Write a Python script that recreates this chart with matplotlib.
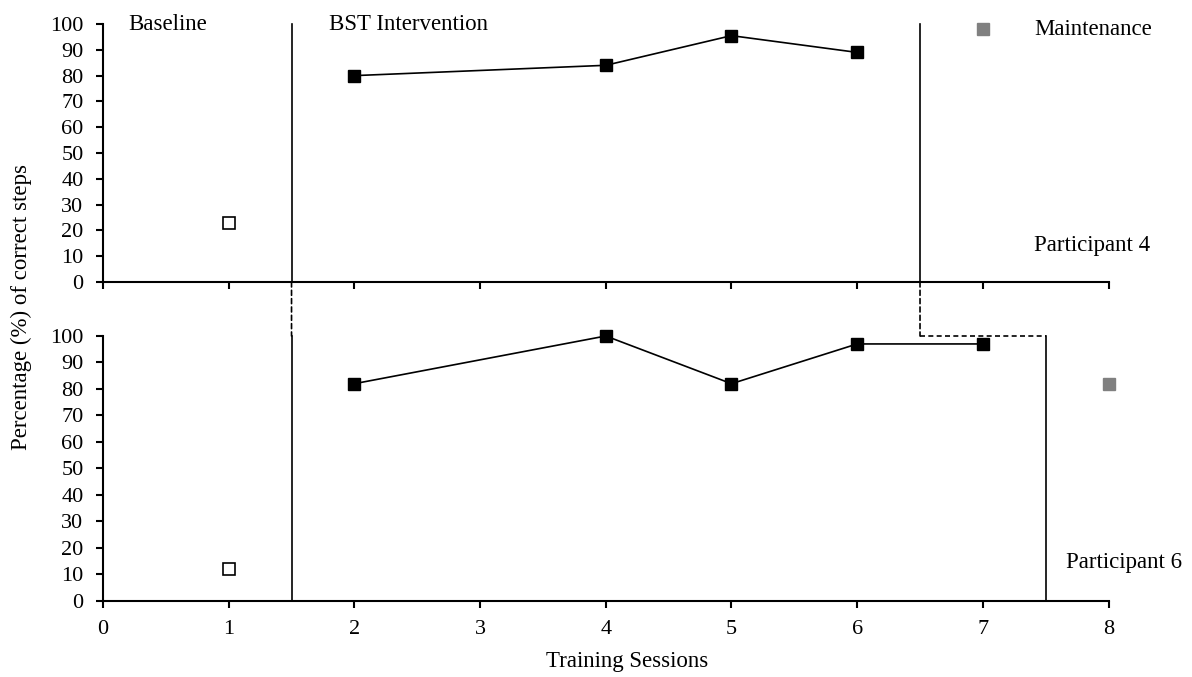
import matplotlib
matplotlib.use("Agg")
import matplotlib.pyplot as plt
from matplotlib.patches import ConnectionPatch

plt.rcParams["font.family"] = ["Liberation Serif", "DejaVu Serif"]
plt.rcParams["font.size"] = 16.5

# Participant 4
p4_base_x = [1]
p4_base_y = [23]
p4_bst_x = [2, 4, 5, 6]
p4_bst_y = [80, 84, 95.5, 89]
p4_maint_x = [7]
p4_maint_y = [98]

# Participant 6
p6_base_x = [1]
p6_base_y = [12]
p6_bst_x = [2, 4, 5, 6, 7]
p6_bst_y = [82, 100, 82, 97, 97]
p6_maint_x = [8]
p6_maint_y = [82]

# Phase changes
p4_phase = [1.5, 6.5]
p6_phase = [1.5, 7.5]

x_ticks = [0, 1, 2, 3, 4, 5, 6, 7, 8]
y_ticks = list(range(0, 101, 10))

fig = plt.figure(figsize=(11.92, 6.77), dpi=100)
ax1 = fig.add_axes([0.0864, 0.5835, 0.8436, 0.381])
ax2 = fig.add_axes([0.0864, 0.1123, 0.8436, 0.3914])

sq = dict(marker="s", markersize=8.5, linestyle="none", clip_on=False, zorder=4)

for ax, bx, by, ix, iy, mx, my in [
    (ax1, p4_base_x, p4_base_y, p4_bst_x, p4_bst_y, p4_maint_x, p4_maint_y),
    (ax2, p6_base_x, p6_base_y, p6_bst_x, p6_bst_y, p6_maint_x, p6_maint_y),
]:
    ax.plot(bx, by, mfc="white", mec="black", mew=1.2, **sq)
    ax.plot(ix, iy, color="black", lw=1.2, zorder=3, clip_on=False)
    ax.plot(ix, iy, mfc="black", mec="black", **sq)
    ax.plot(mx, my, mfc="#808080", mec="#808080", **sq)

    ax.set_xlim(0, 8)
    ax.set_ylim(0, 100)
    ax.set_xticks(x_ticks)
    ax.set_yticks(y_ticks)
    for s in ["top", "right"]:
        ax.spines[s].set_visible(False)
    for s in ["left", "bottom"]:
        ax.spines[s].set_linewidth(1.5)
    ax.tick_params(direction="out", length=5, width=1.5, labelsize=16)
    ax.tick_params(axis="y", pad=9)
    ax.tick_params(axis="x", pad=9)

ax1.tick_params(axis="x", labelbottom=False)

# phase change lines
for x in p4_phase:
    ax1.plot([x, x], [0, 100], color="black", lw=1.2, clip_on=False)
for x in p6_phase:
    ax2.plot([x, x], [0, 100], color="black", lw=1.2, clip_on=False)

# dashed connectors between panels
dash = (0, (3, 2))
con1 = ConnectionPatch(xyA=(p4_phase[0], 0), coordsA=ax1.transData,
                       xyB=(p6_phase[0], 100), coordsB=ax2.transData,
                       color="black", lw=1.2, linestyle=dash)
fig.add_artist(con1)
con2 = ConnectionPatch(xyA=(p4_phase[1], 0), coordsA=ax1.transData,
                       xyB=(p4_phase[1], 100), coordsB=ax2.transData,
                       color="black", lw=1.2, linestyle=dash)
fig.add_artist(con2)
ax2.plot([p4_phase[1], p6_phase[1]], [100, 100], color="black", lw=1.2,
         linestyle=dash, clip_on=False)

# labels
ax1.text(0.2, 100, "Baseline", va="center")
ax1.text(1.8, 100, "BST Intervention", va="center")
ax1.text(7.41, 98, "Maintenance", va="center")
ax1.text(7.41, 14, "Participant 4", va="center")
ax2.text(7.66, 14.5, "Participant 6", va="center")

fig.text(627 / 1192, 1 - 662 / 677, "Training Sessions", ha="center", va="center")
fig.text(21 / 1192, 1 - 307 / 677, "Percentage (%) of correct steps",
         rotation=90, ha="center", va="center")

fig.savefig("out.png", dpi=100)
